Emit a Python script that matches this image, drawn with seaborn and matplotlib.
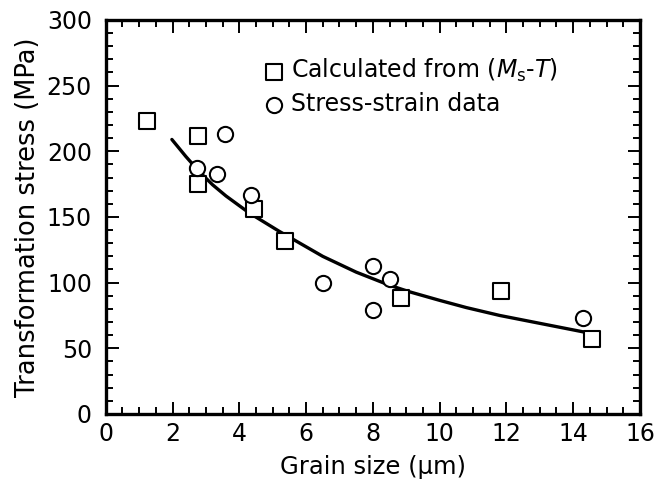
import matplotlib
matplotlib.use("Agg")
import matplotlib.pyplot as plt
import seaborn as sns
import pandas as pd
from matplotlib.ticker import MultipleLocator

# Data
calc_x = [1.23, 2.75, 2.75, 4.45, 5.37, 8.85, 11.85, 14.55]
calc_y = [223, 212, 175, 156, 132, 88, 94, 57]

ss_x = [2.74, 3.56, 3.32, 4.35, 6.5, 8.0, 8.5, 8.0, 14.3]
ss_y = [187, 213, 183, 167, 100, 113, 103, 79, 73]

curve_x = [1.98, 2.4, 2.8, 3.2, 3.6, 4.3, 5.2, 6.5, 7.5, 8.5, 9.1, 10.0, 10.8, 11.8, 12.8, 13.6, 14.5]
curve_y = [209, 196, 184.5, 174.5, 166, 153, 139, 120, 108, 98, 93, 86.5, 81, 75, 70, 66, 61.5]

xticks = [0, 2, 4, 6, 8, 10, 12, 14, 16]
yticks = [0, 50, 100, 150, 200, 250, 300]

sns.set_style("ticks")
plt.rcParams['font.family'] = ['DejaVu Sans']
plt.rcParams['mathtext.fontset'] = 'dejavusans'
plt.rcParams['text.color'] = 'black'
plt.rcParams['axes.labelcolor'] = 'black'

fig = plt.figure(figsize=(6.57, 4.87), dpi=100)
ax = fig.add_axes([0.161, 0.150, 0.813, 0.809])

curve_df = pd.DataFrame({"x": curve_x, "y": curve_y})
sns.lineplot(data=curve_df, x="x", y="y", sort=False, color="black", lw=2.4, ax=ax, zorder=2)

calc_df = pd.DataFrame({"x": calc_x, "y": calc_y})
ss_df = pd.DataFrame({"x": ss_x, "y": ss_y})
sns.scatterplot(data=calc_df, x="x", y="y", marker="s", s=120, facecolor="white",
                edgecolor="black", linewidth=1.5, ax=ax, zorder=3,
                label=r"Calculated from ($M_\mathrm{s}$-$T$)")
sns.scatterplot(data=ss_df, x="x", y="y", marker="o", s=120, facecolor="white",
                edgecolor="black", linewidth=1.5, ax=ax, zorder=3,
                label="Stress-strain data")

ax.set_xlim(0, 16)
ax.set_ylim(0, 300)
ax.set_xticks(xticks)
ax.set_yticks(yticks)
ax.xaxis.set_minor_locator(MultipleLocator(0.5))
ax.yaxis.set_minor_locator(MultipleLocator(10))
ax.tick_params(which="both", direction="in", top=True, right=True, colors="black",
               labelsize=17, width=1.4)
ax.tick_params(axis="x", pad=6)
ax.tick_params(axis="y", pad=10)
ax.tick_params(which="major", length=9)
ax.tick_params(which="minor", length=5)
for sp in ax.spines.values():
    sp.set_linewidth(2.4)
    sp.set_color("black")

ax.set_xlabel("Grain size (μm)", fontsize=17.5, labelpad=6, color="black")
ax.set_ylabel("Transformation stress (MPa)", fontsize=18.5, labelpad=4, color="black")

leg = ax.legend(loc="upper left", bbox_to_anchor=(0.27, 0.93), frameon=False,
                fontsize=17, handletextpad=0.15, borderaxespad=0, labelspacing=0.35,
                handlelength=1.2, markerscale=1.0)
for t in leg.get_texts():
    t.set_color("black")

fig.savefig("out.png", dpi=100)
